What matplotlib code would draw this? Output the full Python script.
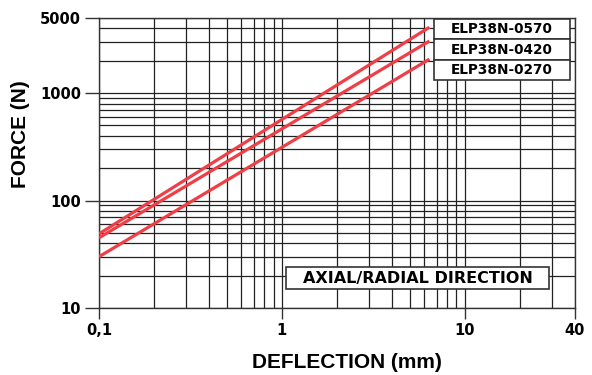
import numpy as np
import matplotlib
matplotlib.use('Agg')
from matplotlib import pyplot as plt
from matplotlib import rcParams
import matplotlib.patches as mpatches
rcParams['font.family'] = ['DejaVu Sans']

# deflection (mm) / force (N) at the ends of each curve
models = ['ELP38N-0570', 'ELP38N-0420', 'ELP38N-0270']
defl = [0.1, 6.4]
force_0570 = [49, 4100]
force_0420 = [45, 3050]
force_0270 = [30, 2070]

x_ticks = [0.1, 1, 10, 40]
x_labels = ['0,1', '1', '10', '40']
y_ticks = [10, 100, 1000, 5000]
y_labels = ['10', '100', '1000', '5000']

fig = plt.figure(figsize=(5.92, 3.75), dpi=100)
ax = fig.add_axes([0.1672, 0.1787, 0.9713 - 0.1672, 0.952 - 0.1787])
ax.set_xscale('log')
ax.set_yscale('log')
ax.set_xlim(0.1, 40)
ax.set_ylim(10, 5000)

# grid lines at every 1..9 step of each decade
xg = [m * d for d in (0.1, 1, 10) for m in range(1, 10) if m * d <= 40]
yg = [m * d for d in (10, 100, 1000) for m in range(1, 10) if m * d <= 5000]
for v in xg:
    ax.axvline(v, color='#222222', lw=0.9, zorder=1)
for v in yg:
    ax.axhline(v, color='#222222', lw=0.9, zorder=1)

for f in (force_0570, force_0420, force_0270):
    ax.plot(defl, f, color='#ef3e46', lw=2.3, zorder=3, solid_capstyle='butt')

ax.set_xticks(x_ticks)
ax.set_xticklabels(x_labels, fontsize=10.5, fontweight='bold')
ax.set_yticks(y_ticks)
ax.set_yticklabels(y_labels, fontsize=10.5, fontweight='bold')
ax.minorticks_off()
ax.tick_params(axis='x', direction='out', length=8, width=1, color='#333333', pad=3)
ax.tick_params(axis='y', direction='out', length=10, width=1, color='#333333', pad=3)
for s in ax.spines.values():
    s.set_color('#333333')
    s.set_linewidth(1)

lab = dict(fontsize=15, fontweight='bold', family='Liberation Sans')
fig.text(347 / 592, 1 - 363 / 375, 'DEFLECTION (mm)', ha='center', va='center', **lab)
fig.text(21 / 592, 1 - 134 / 375, 'FORCE (N)', ha='center', va='center', rotation=90, **lab)

# model label boxes
rows = [0.9966, 0.9266, 0.855, 0.786]
for i, name in enumerate(models):
    ax.add_patch(mpatches.Rectangle((0.704, rows[i + 1]), 0.9895 - 0.704, rows[i] - rows[i + 1],
                                    transform=ax.transAxes, facecolor='white', edgecolor='#333333',
                                    lw=1.2, zorder=5))
    ax.text(0.8466, (rows[i] + rows[i + 1]) / 2, name, transform=ax.transAxes, ha='center',
            va='center', fontsize=9.8, fontweight='bold', zorder=6)

ax.add_patch(mpatches.Rectangle((0.393, 0.0655), 0.945 - 0.393, 0.141 - 0.0655,
                                transform=ax.transAxes, facecolor='white', edgecolor='#333333',
                                lw=1.2, zorder=5))
ax.text(0.669, 0.103, 'AXIAL/RADIAL DIRECTION', transform=ax.transAxes, ha='center', va='center',
        fontsize=11.5, fontweight='bold', zorder=6)

fig.savefig('out.png', dpi=100)
